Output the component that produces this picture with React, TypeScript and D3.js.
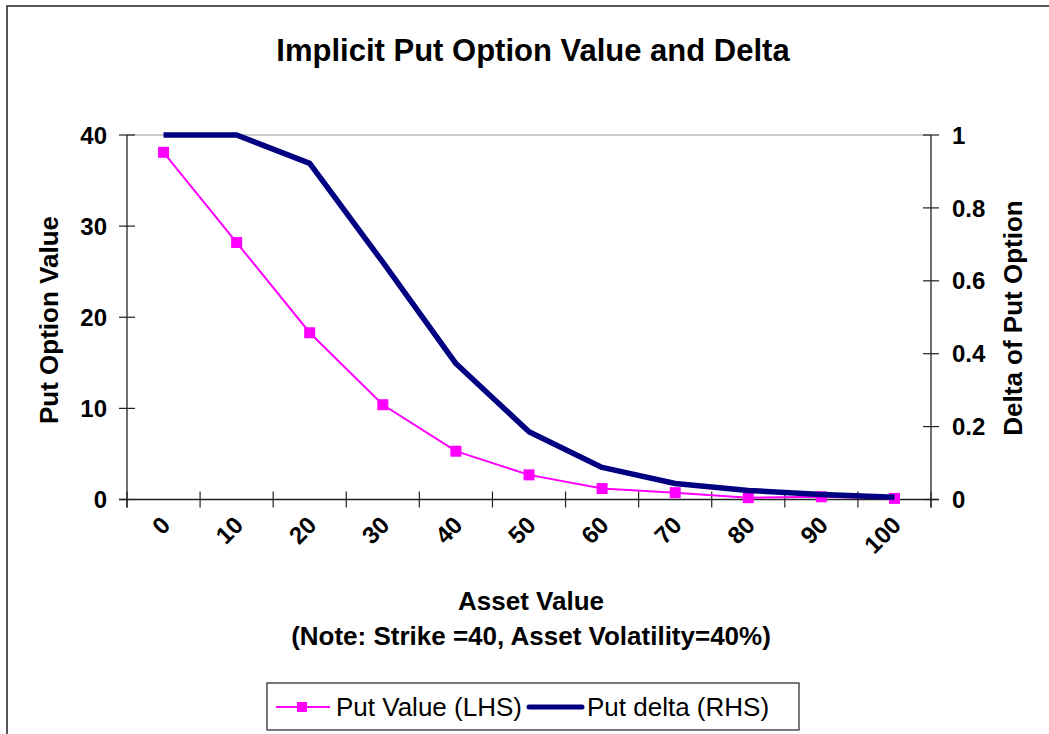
import React from 'react';
import * as d3 from 'd3';

const assetValues = ['0', '10', '20', '30', '40', '50', '60', '70', '80', '90', '100'];
const putValue = [38.1, 28.2, 18.3, 10.4, 5.3, 2.7, 1.2, 0.75, 0.2, 0.3, 0.12];
const putDelta = [1.0, 1.0, 0.922, 0.651, 0.373, 0.186, 0.088, 0.044, 0.025, 0.014, 0.006];
const leftTicks = [0, 10, 20, 30, 40];
const rightTicks = [0, 0.2, 0.4, 0.6, 0.8, 1];

const FONT = '"Liberation Sans", Arial, sans-serif';
const PINK = '#ff00ff';
const NAVY = '#000080';

export default function App() {
  const plot = { left: 127, right: 931, top: 135, bottom: 499.5 };

  const x = d3.scaleBand<string>()
    .domain(assetValues)
    .range([plot.left, plot.right]);
  const yL = d3.scaleLinear().domain([0, 40]).range([plot.bottom, plot.top]);
  const yR = d3.scaleLinear().domain([0, 1]).range([plot.bottom, plot.top]);
  const cx = (i: number) => (x(assetValues[i]) as number) + x.bandwidth() / 2;

  const putLine = d3.line<number>().x((_, i) => cx(i)).y(d => yL(d))(putValue) || '';
  const deltaLine = d3.line<number>().x((_, i) => cx(i)).y(d => yR(d))(putDelta) || '';

  // category boundaries for x-axis tick marks
  const xTickPos = [...assetValues.map(v => x(v) as number), plot.right];

  return (
    <svg width={1049} height={734} style={{ position: 'absolute', left: 0, top: 0, background: '#fff' }}
      fontFamily={FONT}>
      <rect x={7} y={6} width={1200} height={900} fill="#fff" stroke="#222" strokeWidth={1.5} />

      <text x={533} y={61} textAnchor="middle" fontSize={31} fontWeight="bold">
        Implicit Put Option Value and Delta
      </text>

      {/* top border line of plot area */}
      <line x1={plot.left} x2={plot.right} y1={plot.top} y2={plot.top} stroke="#999" strokeWidth={1} />

      {/* left axis */}
      <line x1={plot.left} x2={plot.left} y1={plot.top} y2={plot.bottom + 8} stroke="#222" strokeWidth={1.3} />
      {leftTicks.map(t => (
        <g key={'l' + t}>
          <line x1={plot.left - 8} x2={plot.left + 8} y1={yL(t)} y2={yL(t)} stroke="#222" strokeWidth={1.2} />
          <text x={107} y={yL(t)} dy="0.36em" textAnchor="end" fontSize={24} fontWeight="bold">{t}</text>
        </g>
      ))}
      <text transform="translate(58,320) rotate(-90)" textAnchor="middle"
        fontSize={26} fontWeight="bold">Put Option Value</text>

      {/* right axis */}
      <line x1={plot.right} x2={plot.right} y1={plot.top} y2={plot.bottom + 8} stroke="#222" strokeWidth={1.3} />
      {rightTicks.map(t => (
        <g key={'r' + t}>
          <line x1={plot.right - 8} x2={plot.right + 8} y1={yR(t)} y2={yR(t)} stroke="#222" strokeWidth={1.2} />
          <text x={952} y={yR(t)} dy="0.36em" textAnchor="start" fontSize={24} fontWeight="bold">{t}</text>
        </g>
      ))}
      <text transform="translate(1022,318) rotate(-90)" textAnchor="middle"
        fontSize={26} fontWeight="bold">Delta of Put Option</text>

      {/* x axis */}
      <line x1={plot.left - 8} x2={plot.right + 8} y1={plot.bottom} y2={plot.bottom} stroke="#222" strokeWidth={1.3} />
      {xTickPos.map((p, i) => (
        <line key={'xt' + i} x1={p} x2={p} y1={plot.bottom - 8} y2={plot.bottom + 8} stroke="#222" strokeWidth={1.2} />
      ))}
      {assetValues.map((v, i) => (
        <text key={'xl' + v} transform={`translate(${cx(i) + 2},${plot.bottom + 21}) rotate(-45)`}
          textAnchor="end" dy="0.36em" fontSize={24} fontWeight="bold">{v}</text>
      ))}
      <text x={531} y={610} textAnchor="middle" fontSize={26} fontWeight="bold">Asset Value</text>
      <text x={531} y={645} textAnchor="middle" fontSize={26} fontWeight="bold">
        (Note: Strike =40, Asset Volatility=40%)
      </text>

      {/* series */}
      <path d={putLine} fill="none" stroke={PINK} strokeWidth={2} />
      {putValue.map((d, i) => (
        <rect key={'m' + i} x={cx(i) - 5.5} y={yL(d) - 5.5} width={11} height={11} fill={PINK} />
      ))}
      <path d={deltaLine} fill="none" stroke={NAVY} strokeWidth={5.5} strokeLinejoin="round" />

      {/* legend */}
      <rect x={267} y={683} width={532} height={47} fill="#fff" stroke="#222" strokeWidth={1.2} />
      <line x1={276} x2={330} y1={707} y2={707} stroke={PINK} strokeWidth={2} />
      <rect x={297} y={702} width={10} height={10} fill={PINK} />
      <text x={336} y={707} dy="0.36em" fontSize={26}>Put Value (LHS)</text>
      <line x1={529} x2={582} y1={707} y2={707} stroke={NAVY} strokeWidth={5} strokeLinecap="round" />
      <text x={587} y={707} dy="0.36em" fontSize={26}>Put delta (RHS)</text>
    </svg>
  );
}
